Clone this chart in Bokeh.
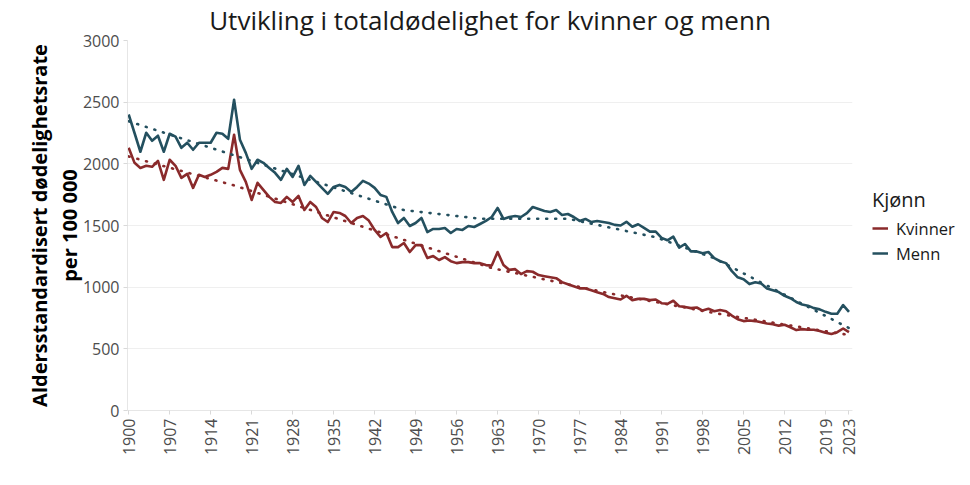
from math import pi
from bokeh.plotting import figure
from bokeh.models import ColumnDataSource, FixedTicker, Legend, LegendItem, Range1d
from bokeh.embed import file_html
from bokeh.resources import INLINE

# ---------------- data ----------------
years = list(range(1900, 2024))

kvinner = [
    2130, 2008, 1967, 1984, 1976, 2024, 1870, 2033, 1984, 1886,   # 1900-1909
    1919, 1805, 1911, 1894, 1911, 1935, 1967, 1959, 2236, 1951,   # 1910-1919
    1854, 1707, 1846, 1789, 1732, 1691, 1683, 1732, 1691, 1740,   # 1920-1929
    1626, 1691, 1650, 1561, 1528, 1610, 1602, 1577, 1520, 1561,   # 1930-1939
    1577, 1540, 1464, 1407, 1439, 1325, 1325, 1358, 1285, 1341,   # 1940-1949
    1341, 1236, 1252, 1220, 1244, 1211, 1195, 1203, 1203, 1195,   # 1950-1959
    1195, 1179, 1175, 1285, 1180, 1140, 1146, 1106, 1130, 1125,   # 1960-1969
    1098, 1089, 1081, 1073, 1041, 1024, 1008, 990, 990, 975,      # 1970-1979
    959, 945, 920, 910, 900, 930, 895, 905, 905, 895,             # 1980-1989
    900, 870, 865, 890, 845, 840, 830, 835, 810, 825,             # 1990-1999
    805, 815, 805, 770, 740, 725, 730, 725, 715, 705,             # 2000-2009
    700, 688, 695, 675, 652, 660, 655, 655, 645, 630,             # 2010-2019
    620, 635, 665, 635,                                           # 2020-2023
]

menn = [
    2400, 2250, 2098, 2252, 2187, 2228, 2098, 2244, 2220, 2130,   # 1900-1909
    2171, 2114, 2171, 2171, 2171, 2252, 2244, 2203, 2520, 2195,   # 1910-1919
    2089, 1959, 2033, 2008, 1967, 1927, 1870, 1959, 1894, 1984,   # 1920-1929
    1829, 1902, 1854, 1805, 1756, 1813, 1829, 1813, 1772, 1813,   # 1930-1939
    1862, 1840, 1805, 1748, 1732, 1610, 1520, 1561, 1496, 1520,   # 1940-1949
    1561, 1447, 1472, 1472, 1480, 1439, 1472, 1464, 1496, 1488,   # 1950-1959
    1512, 1537, 1569, 1642, 1553, 1569, 1577, 1569, 1600, 1650,   # 1960-1969
    1634, 1618, 1610, 1626, 1585, 1593, 1569, 1537, 1553, 1528,   # 1970-1979
    1537, 1528, 1520, 1505, 1500, 1530, 1490, 1510, 1480, 1450,   # 1980-1989
    1450, 1400, 1380, 1410, 1320, 1350, 1290, 1290, 1275, 1285,   # 1990-1999
    1235, 1210, 1195, 1130, 1080, 1065, 1025, 1040, 1030, 990,    # 2000-2009
    975, 960, 930, 910, 880, 860, 850, 830, 820, 800,             # 2010-2019
    785, 785, 855, 800,                                           # 2020-2023
]

# trend lines (segmented), read at their break years
trend_years_k = [1900, 1918, 1962, 1982, 2000, 2023]
trend_k = [2060, 1825, 1155, 951, 790, 612]
trend_years_m = [1900, 1947, 1960, 1975, 1990, 2000, 2023]
trend_m = [2345, 1625, 1555, 1555, 1405, 1235, 668]

x_ticks = [1900, 1907, 1914, 1921, 1928, 1935, 1942, 1949, 1956, 1963,
           1970, 1977, 1984, 1991, 1998, 2005, 2012, 2019, 2023]
y_ticks = [0, 500, 1000, 1500, 2000, 2500, 3000]

series_names = ["Kvinner", "Menn"]
colors = ["#8a2a2b", "#24505f"]

FONT = "Open Sans"

# ---------------- figure ----------------
p = figure(frame_width=725, frame_height=370, output_backend="svg", toolbar_location=None,
           x_range=Range1d(1899.8, 2023.6), y_range=Range1d(0, 3000),
           min_border_left=127, min_border_right=100, min_border_top=40,
           min_border_bottom=59,
           title="Utvikling i totaldødelighet for kvinner og menn")

p.background_fill_color = "white"
p.border_fill_color = "white"
p.outline_line_color = None

p.title.text_font = FONT
p.title.text_font_size = "26px"
p.title.text_font_style = "normal"
p.title.text_color = "#1a1a1a"
p.title.align = "center"
p.title.vertical_align = "top"
p.title.text_line_height = 1.0
p.title.standoff = 2

src_k = ColumnDataSource(dict(x=years, y=kvinner))
src_m = ColumnDataSource(dict(x=years, y=menn))
src_tk = ColumnDataSource(dict(x=trend_years_k, y=trend_k))
src_tm = ColumnDataSource(dict(x=trend_years_m, y=trend_m))

rk = p.line("x", "y", source=src_k, line_color=colors[0], line_width=2.6, line_join="round")
rm = p.line("x", "y", source=src_m, line_color=colors[1], line_width=2.6, line_join="round")
p.line("x", "y", source=src_tk, line_color=colors[0], line_width=2.6,
       line_dash="1 8", line_cap="round")
p.line("x", "y", source=src_tm, line_color=colors[1], line_width=2.6,
       line_dash="1 8", line_cap="round")

# axes
p.xaxis.ticker = FixedTicker(ticks=x_ticks)
p.yaxis.ticker = FixedTicker(ticks=y_ticks)
p.xaxis.major_label_orientation = pi / 2
for ax in (p.xaxis, p.yaxis):
    ax.major_label_text_font = FONT
    ax.major_label_text_font_size = "16px"
    ax.major_label_text_color = "#4d4d4d"
    ax.axis_line_color = "#e6e6e6"
    ax.major_tick_line_color = "#d9d9d9"
    ax.major_tick_in = 0
    ax.major_tick_out = 4
    ax.minor_tick_line_color = None
p.yaxis.major_label_standoff = 4
p.xaxis.major_label_standoff = 4

p.yaxis.axis_label = "Aldersstandardisert dødelighetsrate\nper 100 000"
p.yaxis.axis_label_text_font = FONT
p.yaxis.axis_label_text_font_size = "20px"
p.yaxis.axis_label_text_font_style = "bold"
p.yaxis.axis_label_text_color = "#000000"
p.yaxis.axis_label_text_line_height = 1.1
p.yaxis.axis_label_standoff = -3

p.xgrid.grid_line_color = None
p.ygrid.grid_line_color = "#efefef"
p.ygrid.grid_line_width = 1

legend = Legend(items=[LegendItem(label=series_names[0], renderers=[rk]),
                       LegendItem(label=series_names[1], renderers=[rm])],
                title="Kjønn", location="center_left",
                border_line_color=None, background_fill_alpha=0)
legend.title_text_font = FONT
legend.title_text_font_size = "20px"
legend.title_text_font_style = "normal"
legend.title_text_color = "#1a1a1a"
legend.label_text_font = FONT
legend.label_text_font_size = "16.5px"
legend.label_text_color = "#1a1a1a"
legend.label_text_line_height = 1.0
legend.label_height = 17
legend.glyph_width = 16
legend.glyph_height = 17
legend.spacing = 2
legend.padding = 2
legend.margin = 20
legend.label_standoff = 8
legend.title_standoff = 4
p.add_layout(legend, "right")

open("out.html", "w").write(file_html(p, INLINE))
